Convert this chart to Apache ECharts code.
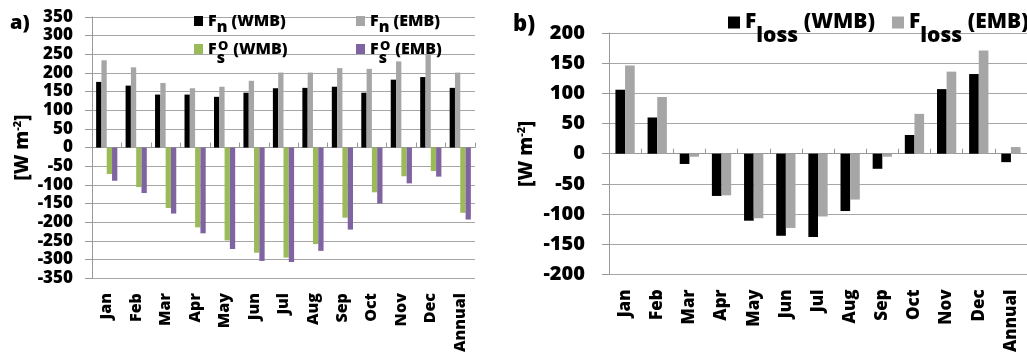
<!DOCTYPE html>
<html><head><meta charset="utf-8">
<script src="https://cdn.jsdelivr.net/npm/echarts@6/dist/echarts.min.js"></script>
<style>html,body{margin:0;padding:0;background:#fff}#c{width:1027px;height:355px}</style>
</head><body><div id="c"></div>
<script>
// ---- data ----
const categories = ['Jan','Feb','Mar','Apr','May','Jun','Jul','Aug','Sep','Oct','Nov','Dec','Annual'];
// panel a
const fnWMB = [176,166,142,142,136,147,159,160,163,147,182,189,160];
const fnEMB = [234,215,173,159,163,179,201,201,213,211,231,250,201];
const fsWMB = [-71,-106,-162,-214,-249,-282,-295,-259,-188,-120,-77,-63,-175];
const fsEMB = [-89,-122,-177,-230,-272,-304,-307,-277,-220,-150,-96,-78,-193];
// panel b
const flossWMB = [106,60,-17,-70,-111,-136,-138,-95,-25,31,107,132,-14];
const flossEMB = [146,94,-5,-69,-107,-123,-104,-76,-5,66,136,171,11];
// axis ticks
const yTicksA = {min:-350, max:350, interval:50};
const yTicksB = {min:-200, max:200, interval:50};

const FONT = 'Open Sans';
const W = 800;
const GRID = '#A6A6A6';
const AXIS = '#999999';

function richSet(size, subPad){
  const base = {fontSize:size, fontWeight:W, fontFamily:FONT, color:'#000'};
  return {
    f: Object.assign({}, base),
    s: Object.assign({}, base, {padding:[subPad,0,0,0]}),
    t: Object.assign({}, base)
  };
}
function legendItem(name, left, top, fmt, size, subPad, iw, ih){
  return {
    data:[name], left:left, top:top, padding:0, orient:'horizontal',
    icon:'rect', itemWidth:iw, itemHeight:ih, selectedMode:false,
    formatter: function(){ return fmt; },
    textStyle:{fontSize:size, fontWeight:W, fontFamily:FONT, color:'#000', rich:richSet(size, subPad)}
  };
}

const chart = echarts.init(document.getElementById('c'));

function catAxisLabels(grid, size){
  return {
    type:'category', gridIndex:grid, data:categories, position:'bottom',
    axisLine:{show:false, onZero:false}, axisTick:{show:false},
    axisLabel:{rotate:90, fontSize:size, fontWeight:W, fontFamily:FONT, color:'#000', margin:15, interval:0}
  };
}
function catAxisZero(grid){
  return {
    type:'category', gridIndex:grid, data:categories, position:'top',
    axisLine:{show:true, onZero:true, lineStyle:{color:AXIS, width:1}},
    axisTick:{show:true, inside:false, length:5, interval:0, lineStyle:{color:AXIS}},
    axisLabel:{show:false}, splitLine:{show:false}
  };
}
function valAxis(grid, t, size, margin, nameGap, nameSize){
  return {
    type:'value', gridIndex:grid, min:t.min, max:t.max, interval:t.interval,
    axisLine:{show:true, lineStyle:{color:AXIS}},
    axisTick:{show:true, length:7, lineStyle:{color:AXIS}},
    splitLine:{show:true, lineStyle:{color:GRID, width:1}},
    axisLabel:{fontSize:size, fontWeight:W, fontFamily:FONT, color:'#000', margin:margin},
    name:'[W m{sup|-2}]', nameLocation:'middle', nameGap:nameGap,
    nameTextStyle:{fontSize:nameSize, fontWeight:W, fontFamily:FONT, color:'#000',
      rich:{sup:{fontSize:Math.round(nameSize*0.6), fontWeight:W, fontFamily:FONT, color:'#000', padding:[0,0,10,0]}}}
  };
}

const option = {
  animation:false,
  backgroundColor:'#fff',
  grid:[
    {left:92, top:17, width:383, height:263},
    {left:609, top:33, width:429, height:246}
  ],
  xAxis:[catAxisLabels(0,16), catAxisZero(0), catAxisLabels(1,17), catAxisZero(1)],
  yAxis:[valAxis(0, yTicksA, 17, 19, 59, 19), valAxis(1, yTicksB, 20, 24, 72, 19)],
  legend:[
    legendItem('Fn WMB', 194, 13, '{f|F}{s|n} {t|(WMB)}', 16, 13, 9, 10),
    legendItem('Fn EMB', 356, 13, '{f|F}{s|n} {t|(EMB)}', 16, 13, 9, 10),
    legendItem('Fs WMB', 194, 41, '{f|F}{s|s}  {t|(WMB)}', 16, 18, 9, 10),
    legendItem('Fs EMB', 356, 41, '{f|F}{s|s}  {t|(EMB)}', 16, 18, 9, 10),
    legendItem('Floss WMB', 728, 12, '{f|F}{s|loss}{t| (WMB)}', 21, 28, 12, 12),
    legendItem('Floss EMB', 892, 12, '{f|F}{s|loss}{t| (EMB)}', 21, 28, 12, 12)
  ],
  graphic:[
    {type:'text', left:10, top:13, style:{text:'a)', fontSize:20, fontWeight:W, fontFamily:FONT, fill:'#000'}},
    {type:'text', left:513, top:14, style:{text:'b)', fontSize:22, fontWeight:W, fontFamily:FONT, fill:'#000'}},
    {type:'text', left:218, top:40, style:{text:'O', fontSize:13, fontWeight:W, fontFamily:FONT, fill:'#000'}},
    {type:'text', left:380, top:40, style:{text:'O', fontSize:13, fontWeight:W, fontFamily:FONT, fill:'#000'}}
  ],
  series:[
    {name:'Fn WMB', type:'bar', xAxisIndex:0, yAxisIndex:0, data:fnWMB, itemStyle:{color:'#000000'}, barGap:'0%', barCategoryGap:'28%'},
    {name:'Fn EMB', type:'bar', xAxisIndex:0, yAxisIndex:0, data:fnEMB, itemStyle:{color:'#A6A6A6'}, barGap:'0%', barCategoryGap:'28%'},
    {name:'Fs WMB', type:'bar', xAxisIndex:0, yAxisIndex:0, data:fsWMB, itemStyle:{color:'#9BBB59'}, barGap:'0%', barCategoryGap:'28%'},
    {name:'Fs EMB', type:'bar', xAxisIndex:0, yAxisIndex:0, data:fsEMB, itemStyle:{color:'#8064A2'}, barGap:'0%', barCategoryGap:'28%'},
    {name:'Floss WMB', type:'bar', xAxisIndex:2, yAxisIndex:1, data:flossWMB, itemStyle:{color:'#000000'}, barGap:'0%', barCategoryGap:'40%'},
    {name:'Floss EMB', type:'bar', xAxisIndex:2, yAxisIndex:1, data:flossEMB, itemStyle:{color:'#A6A6A6'}, barGap:'0%', barCategoryGap:'40%'}
  ]
};
chart.setOption(option);
</script>
</body></html>
